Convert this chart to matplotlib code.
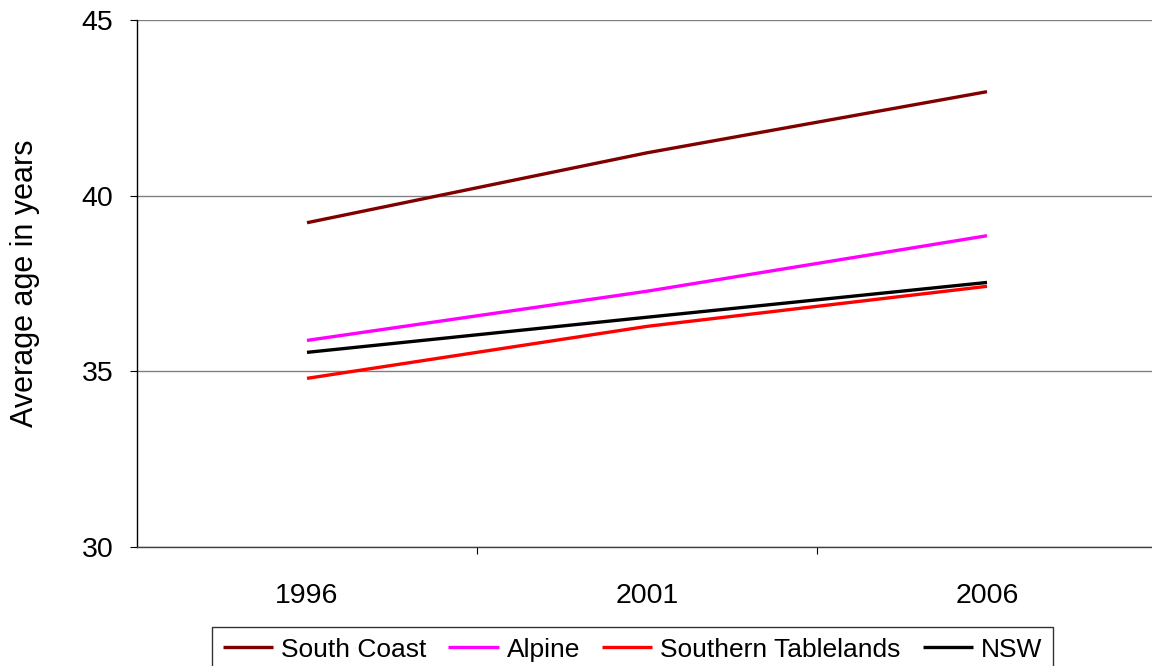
import numpy as np
import matplotlib.pyplot as plt

plt.rcParams['font.family'] = ['Liberation Sans', 'DejaVu Sans']

# Données
years = ['1996', '2001', '2006']
south_coast = [39.23, 41.22, 42.96]
alpine = [35.88, 37.28, 38.86]
southern_tablelands = [34.80, 36.28, 37.42]
nsw = [35.54, 36.54, 37.53]

series = [
    ('South Coast', south_coast, '#800000'),
    ('Alpine', alpine, '#FF00FF'),
    ('Southern Tablelands', southern_tablelands, '#FF0000'),
    ('NSW', nsw, '#000000'),
]

W, H = 1152, 666
fig = plt.figure(figsize=(W / 100, H / 100), dpi=100)
ax = fig.add_axes([137 / W, 1 - 547 / H, 1020 / W, 527 / H])

x = np.arange(len(years))
for name, vals, col in series:
    ax.plot(x, vals, color=col, lw=2.4, label=name, solid_capstyle='butt')

ax.set_xlim(-0.5, 2.5)
ax.set_ylim(30, 45)
ax.set_yticks([30, 35, 40, 45])
ax.set_xticks(x)
ax.set_xticklabels(years)
ax.set_xticks([0.5, 1.5], minor=True)
ax.tick_params(axis='x', which='major', length=0, pad=26, labelsize=20.5)
ax.tick_params(axis='x', which='minor', length=5, width=0.8, direction='out')
ax.tick_params(axis='y', length=5, width=0.8, pad=12, labelsize=20.5)
ax.grid(axis='y', color='#808080', lw=1)
ax.set_axisbelow(True)
ax.spines['top'].set_visible(False)
ax.spines['right'].set_visible(False)
ax.spines['left'].set_linewidth(1)
ax.spines['bottom'].set_linewidth(1)
ax.spines['bottom'].set_color('#404040')
ax.set_ylabel('Average age in years', fontsize=22, labelpad=30)

leg = fig.legend(loc='upper left', bbox_to_anchor=(212 / W, 1 - 627 / H),
                 ncol=4, fontsize=19, frameon=True, fancybox=False,
                 borderaxespad=0, handlelength=1.9, handletextpad=0.3,
                 columnspacing=0.85, borderpad=0.4)
leg.get_frame().set_edgecolor('black')
leg.get_frame().set_linewidth(1)

plt.savefig('out.png', dpi=100)
